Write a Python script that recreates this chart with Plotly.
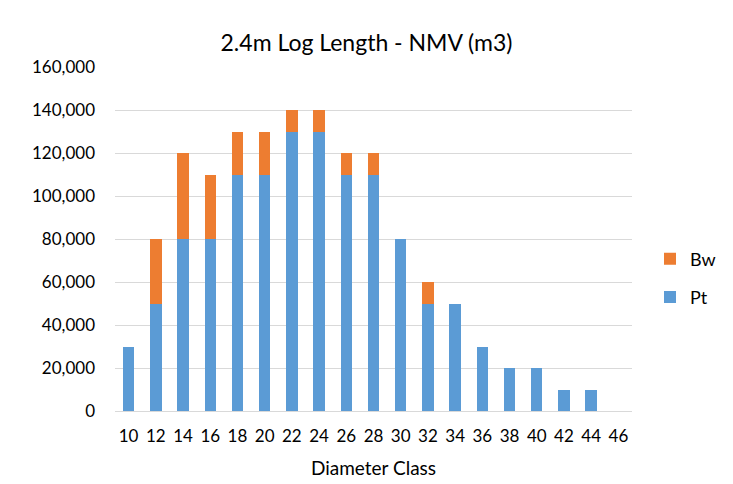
import plotly.graph_objects as go

categories = ["10", "12", "14", "16", "18", "20", "22", "24", "26", "28",
              "30", "32", "34", "36", "38", "40", "42", "44", "46"]
pt_values = [30000, 50000, 80000, 80000, 110000, 110000, 130000, 130000, 110000, 110000,
             80000, 50000, 50000, 30000, 20000, 20000, 10000, 10000, 0]
bw_values = [0, 30000, 40000, 30000, 20000, 20000, 10000, 10000, 10000, 10000,
             0, 10000, 0, 0, 0, 0, 0, 0, 0]
y_ticks = [0, 20000, 40000, 60000, 80000, 100000, 120000, 140000, 160000]

FONT = "Lato, Carlito, Calibri, sans-serif"

fig = go.Figure()
fig.add_trace(go.Bar(x=categories, y=pt_values, name="Pt", marker_color="#5B9BD5",
                     marker_line_width=0, legendgroup="pt", legendrank=2))
fig.add_trace(go.Bar(x=categories, y=bw_values, name="Bw", marker_color="#ED7D31",
                     marker_line_width=0, legendgroup="bw", legendrank=1))

fig.update_layout(
    barmode="stack",
    bargap=0.58,
    width=733, height=484,
    margin=dict(l=115, r=101, t=67, b=73, autoexpand=False),
    paper_bgcolor="white", plot_bgcolor="white",
    font=dict(family=FONT, size=17, color="#000000"),
    title=dict(text="2.4m Log Length - NMV (m3)", x=0.5, xanchor="center",
               y=1 - 43 / 484, yanchor="middle",
               font=dict(family=FONT, size=23, color="#000000")),
    legend=dict(x=1.0 + 18 / 517, xanchor="left", xref="paper",
                y=(411 - 278) / 344, yanchor="middle",
                traceorder="grouped", tracegroupgap=12,
                font=dict(family=FONT, size=18), itemwidth=30),
    xaxis=dict(title=dict(text="Diameter Class", font=dict(family=FONT, size=19), standoff=16),
               showline=True, linecolor="#D9D9D9", linewidth=1, ticks="",
               tickfont=dict(family=FONT, size=17), showgrid=False,
               ticklabelstandoff=10),
    yaxis=dict(range=[0, 160000], tickvals=y_ticks, tickformat=",",
               showgrid=True, gridcolor="#D9D9D9", gridwidth=1, zeroline=False,
               ticks="", tickfont=dict(family=FONT, size=17), ticklabelstandoff=19),
)
fig.write_html("out.html")
